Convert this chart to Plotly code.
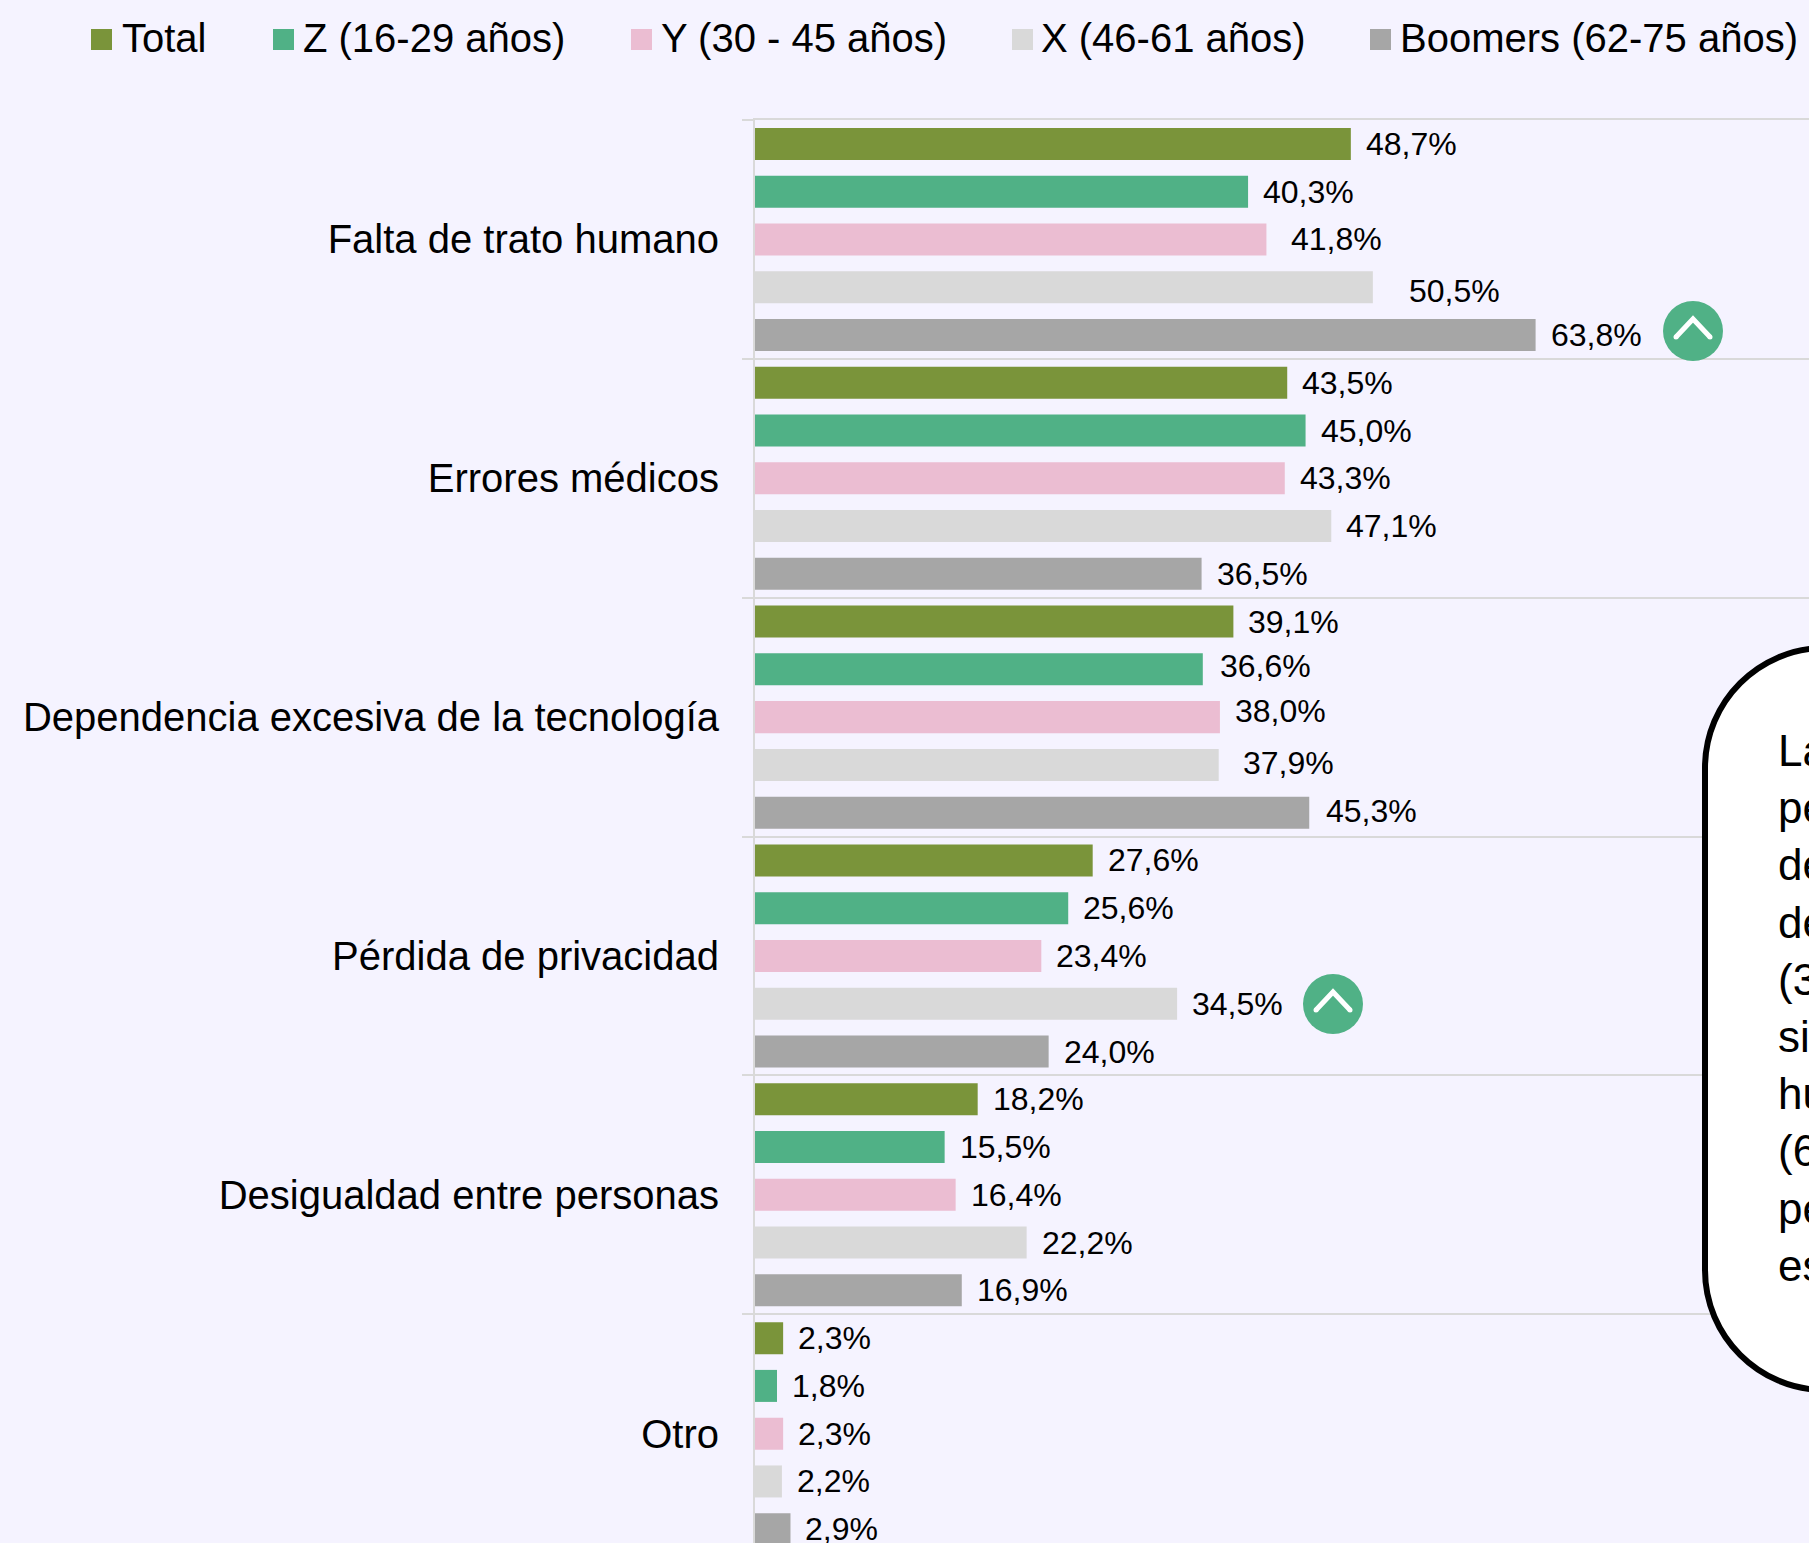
import plotly.graph_objects as go

categories = ["Falta de trato humano", "Errores médicos", "Dependencia excesiva de la tecnología",
              "Pérdida de privacidad", "Desigualdad entre personas", "Otro"]
series_names = ["Total", "Z (16-29 años)", "Y (30 - 45 años)", "X (46-61 años)", "Boomers (62-75 años)"]
total = [48.7, 43.5, 39.1, 27.6, 18.2, 2.3]
gen_z = [40.3, 45.0, 36.6, 25.6, 15.5, 1.8]
gen_y = [41.8, 43.3, 38.0, 23.4, 16.4, 2.3]
gen_x = [50.5, 47.1, 37.9, 34.5, 22.2, 2.2]
boomers = [63.8, 36.5, 45.3, 24.0, 16.9, 2.9]
series_values = [total, gen_z, gen_y, gen_x, boomers]
colors = ["#7a943a", "#50b186", "#ebbdd2", "#d9d9d9", "#a6a6a6"]
callout_lines = ["La", "pe", "de", "de", "(3", "si", "hu", "(6", "pe", "es"]

W, H = 1809, 1543
L, T = 755, 120
BG = "#f5f3ff"
FONT = "Liberation Sans, Arial, sans-serif"
PX_PER_PCT = 12.235
CAT_PX = 238.85


def px(x):
    return (x - L) / (W - L)


def py(y):
    return 1 - (y - T) / (H - T)


fig = go.Figure()
for name, vals, col in zip(series_names, series_values, colors):
    fig.add_bar(y=categories, x=vals, name=name, orientation="h",
                marker=dict(color=col, line=dict(width=0)), showlegend=False)

# value labels: (series, category) -> (extra x px, y px up)
x_extra = {(2, 0): 10, (3, 0): 21, (1, 2): 2, (3, 2): 9, (4, 2): 2}
y_extra = {(3, 0): -4, (1, 2): 3, (2, 2): 6, (3, 2): 2, (4, 2): 2}
annotations = []
for s, vals in enumerate(series_values):
    for c, v in enumerate(vals):
        annotations.append(dict(
            x=v, y=c + (s - 2) * 0.2, xref="x", yref="y", xanchor="left", yanchor="middle",
            text=f"{v:.1f}%".replace(".", ","), showarrow=False, align="left",
            xshift=15 + x_extra.get((s, c), 0), yshift=y_extra.get((s, c), 0),
            font=dict(family=FONT, size=32, color="#000000"), borderpad=0, borderwidth=0))

# manual legend laid out like the reference
legend_swatch_x = [91, 273, 631, 1012, 1370]
legend_text_x = [120, 301, 659, 1039, 1398]
shapes = []
for name, col, sx, tx in zip(series_names, colors, legend_swatch_x, legend_text_x):
    shapes.append(dict(type="rect", xref="paper", yref="paper", x0=px(sx), x1=px(sx + 21),
                       y0=py(50), y1=py(29), fillcolor=col, line=dict(width=0)))
    annotations.append(dict(x=px(tx), y=py(38), xref="paper", yref="paper", xanchor="left",
                            yanchor="middle", text=name, showarrow=False,
                            font=dict(family=FONT, size=40, color="#000000")))

# callout bubble, running off the right edge of the page
bl, bt, bb, br, rad = 1705, 648, 1390, 1950, 120
k = rad * 0.5523
path = (f"M {px(br)},{py(bt)} L {px(bl + rad)},{py(bt)} "
        f"C {px(bl + rad - k)},{py(bt)} {px(bl)},{py(bt + rad - k)} {px(bl)},{py(bt + rad)} "
        f"L {px(bl)},{py(bb - rad)} "
        f"C {px(bl)},{py(bb - rad + k)} {px(bl + rad - k)},{py(bb)} {px(bl + rad)},{py(bb)} "
        f"L {px(br)},{py(bb)} Z")
shapes.append(dict(type="path", xref="paper", yref="paper", path=path, fillcolor="#ffffff",
                   line=dict(color="#000000", width=6), layer="above"))
annotations.append(dict(x=px(1776), y=py(1008), xref="paper", yref="paper", xanchor="left",
                        yanchor="middle", align="left", text="<br>".join(callout_lines),
                        showarrow=False, font=dict(family=FONT, size=44, color="#000000")))

# up-arrow badges
for cx, cy in [(1693, 331), (1333, 1004)]:
    shapes.append(dict(type="circle", xref="paper", yref="paper", x0=px(cx - 30), x1=px(cx + 30),
                       y0=py(cy + 30), y1=py(cy - 30), fillcolor="#50b186", line=dict(width=0)))
    shapes.append(dict(type="path", xref="paper", yref="paper",
                       path=f"M {px(cx - 17)},{py(cy + 6)} L {px(cx)},{py(cy - 12)} L {px(cx + 17)},{py(cy + 6)}",
                       line=dict(color="#ffffff", width=5)))
    for ex in (-17, 17):
        shapes.append(dict(type="circle", xref="paper", yref="paper", x0=px(cx + ex - 2.5),
                           x1=px(cx + ex + 2.5), y0=py(cy + 8.5), y1=py(cy + 3.5),
                           fillcolor="#ffffff", line=dict(width=0)))

fig.update_layout(
    width=W, height=H, autosize=False,
    margin=dict(l=L, r=0, t=T, b=0, pad=0),
    paper_bgcolor=BG, plot_bgcolor=BG,
    barmode="group", bargap=0, bargroupgap=0.33,
    font=dict(family=FONT, color="#000000"),
    showlegend=False,
    annotations=annotations, shapes=shapes,
    xaxis=dict(range=[0, (W - L) / PX_PER_PCT], showgrid=False, zeroline=False, side="top",
               showticklabels=False, ticks="", showline=True, linecolor="#d9d9d9", linewidth=2),
    yaxis=dict(type="category", categoryorder="array", categoryarray=categories,
               range=[(H - T) / CAT_PX - 0.5, -0.5], tickson="boundaries", ticks="outside",
               ticklen=11, tickwidth=2, tickcolor="#d9d9d9", showgrid=True, gridcolor="#d9d9d9",
               gridwidth=2, showline=True, linecolor="#d9d9d9", linewidth=2, zeroline=False,
               ticklabelstandoff=26, tickfont=dict(family=FONT, size=40, color="#000000")),
)
fig.write_html("out.html", config={"displayModeBar": False},
               post_script="document.body.style.margin='0';document.body.style.background='%s';" % BG)
